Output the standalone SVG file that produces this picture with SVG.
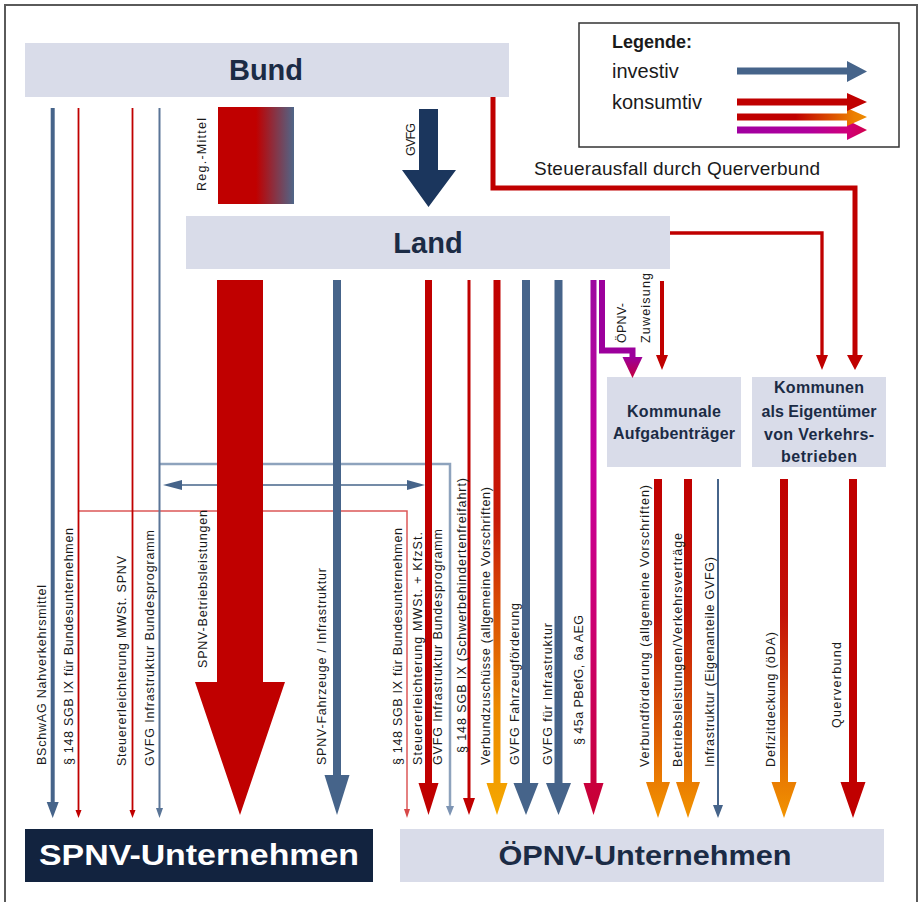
<svg xmlns="http://www.w3.org/2000/svg" width="919" height="902" viewBox="0 0 919 902">
<style>
.box{fill:#d9dce9}
.ttl{font-family:"Liberation Sans",Arial,sans-serif;font-weight:bold;fill:#1b2b45}
.lbl{font-family:"Liberation Sans",Arial,sans-serif;font-size:12.5px;fill:#1a1a1a}
.red{fill:#c00000}
.blue{fill:#46648a}
.redS{stroke:#c00000;fill:none}
.blueS{stroke:#46648a;fill:none}
</style>
<defs>
<linearGradient id="gReg" x1="0" y1="0" x2="1" y2="0"><stop offset="0" stop-color="#c00000"/><stop offset="0.5" stop-color="#c00000"/><stop offset="1" stop-color="#4f6688"/></linearGradient>
<linearGradient id="gAmber" x1="0" y1="0" x2="0" y2="1"><stop offset="0" stop-color="#c00000"/><stop offset="0.45" stop-color="#c81a08"/><stop offset="0.8" stop-color="#ec8a00"/><stop offset="1" stop-color="#f5a800"/></linearGradient>
<linearGradient id="gOrange" x1="0" y1="0" x2="0" y2="1"><stop offset="0" stop-color="#c00000"/><stop offset="0.4" stop-color="#c41208"/><stop offset="1" stop-color="#f29400"/></linearGradient>
<linearGradient id="gMag" x1="0" y1="0" x2="0" y2="1"><stop offset="0" stop-color="#9c0aa0"/><stop offset="0.35" stop-color="#c8009c"/><stop offset="0.65" stop-color="#cc0070"/><stop offset="1" stop-color="#c80032"/></linearGradient>
<linearGradient id="gPurpHead" x1="0" y1="0" x2="0" y2="1"><stop offset="0" stop-color="#9c009c"/><stop offset="1" stop-color="#c4003c"/></linearGradient>
<linearGradient id="gLegO" x1="0" y1="0" x2="1" y2="0"><stop offset="0" stop-color="#c00000"/><stop offset="0.45" stop-color="#c00000"/><stop offset="0.9" stop-color="#ec8000"/><stop offset="1" stop-color="#ee8a00"/></linearGradient>
<linearGradient id="gLegP" x1="0" y1="0" x2="1" y2="0"><stop offset="0" stop-color="#a000a0"/><stop offset="0.55" stop-color="#b0009c"/><stop offset="0.85" stop-color="#d0007a"/><stop offset="1" stop-color="#d0004a"/></linearGradient>
</defs>

<rect x="5" y="5" width="912" height="902" fill="#ffffff" stroke="#5a5a5a" stroke-width="2"/>

<g id="bund"><rect class="box" x="25" y="43" width="484" height="54"/><text class="ttl" x="266" y="80" font-size="29" text-anchor="middle">Bund</text></g>
<g id="land"><rect class="box" x="186" y="216" width="484" height="53"/><text class="ttl" x="428" y="253" font-size="29" text-anchor="middle">Land</text></g>
<g id="kommunale"><rect class="box" x="607" y="377" width="134" height="90"/>
<text class="ttl" x="674" y="417" font-size="16" text-anchor="middle" textLength="94">Kommunale</text>
<text class="ttl" x="674" y="439" font-size="16" text-anchor="middle" textLength="122">Aufgabenträger</text></g>
<g id="kommunen"><rect class="box" x="752" y="377" width="134" height="90"/>
<text class="ttl" x="819" y="393" font-size="16" text-anchor="middle" textLength="90">Kommunen</text>
<text class="ttl" x="819" y="416.5" font-size="16" text-anchor="middle" textLength="115">als Eigentümer</text>
<text class="ttl" x="819" y="439.5" font-size="16" text-anchor="middle" textLength="110">von Verkehrs-</text>
<text class="ttl" x="819" y="462" font-size="16" text-anchor="middle" textLength="76">betrieben</text></g>
<g id="spnv"><rect x="25" y="829" width="348" height="53" fill="#12233f"/><text class="ttl" x="199" y="865" font-size="29" text-anchor="middle" textLength="320" lengthAdjust="spacingAndGlyphs" style="fill:#ffffff">SPNV-Unternehmen</text></g>
<g id="oepnv"><rect class="box" x="400" y="829" width="484" height="53"/><text class="ttl" x="645" y="865" font-size="28" text-anchor="middle" textLength="293" lengthAdjust="spacingAndGlyphs">ÖPNV-Unternehmen</text></g>

<g id="legend">
<rect x="579" y="23" width="320" height="124" fill="#ffffff" stroke="#333333" stroke-width="1.5"/>
<text class="ttl" x="612" y="48" font-size="18" style="fill:#1a1a1a">Legende:</text>
<text class="lbl" x="612" y="78" style="font-size:20px">investiv</text>
<text class="lbl" x="612" y="109" style="font-size:20px">konsumtiv</text>
<polygon class="blue" points="737,67.5 847,67.5 847,61 867,71.5 847,82 847,74.5 737,74.5"/>
<polygon fill="url(#gLegP)" points="737,126.5 847,126.5 847,120 867,130 847,140 847,133.5 737,133.5"/>
<polygon fill="url(#gLegO)" points="737,113.5 847,113.5 847,108 867,117 847,126 847,120.5 737,120.5"/>
<polygon class="red" points="737,98.5 847,98.5 847,93 867,102 847,111 847,105.5 737,105.5"/>
</g>

<g id="reg-mittel"><rect x="218" y="107" width="76" height="97" fill="url(#gReg)"/></g>

<g id="connectors">
<path d="M160,464 H450 V808" fill="none" stroke="#8ea3bd" stroke-width="2.5"/>
<polygon points="446,806 454,806 450,816" fill="#7d94b3"/>
<path d="M182,485 H407" class="blueS" stroke-width="1.5"/>
<polygon class="blue" points="182,480 163,485 182,490"/>
<polygon class="blue" points="407,480 425,485 407,490"/>
<path d="M78.5,511 H407 V810" fill="none" stroke="#dc5858" stroke-width="1.5"/>
<polygon points="404,809 410,809 407,818" fill="#d84848"/>

<polygon class="blue" points="50.7,108 54.7,108 54.7,802 58.7,802 52.7,818 46.7,802 50.7,802"/>
<polygon class="red" points="77.6,108 79.4,108 79.4,810 81.5,810 78.5,818 75.5,810 77.6,810"/>
<polygon class="red" points="131.6,108 133.4,108 133.4,810 135.5,810 132.5,818 129.5,810 131.6,810"/>
<polygon fill="#5a7597" points="158.5,108 160.5,108 160.5,808 163,808 159.5,818 156,808 158.5,808"/>

<polygon fill="#1b365d" points="419,109 438,109 438,170 456,170 428.5,207 402,170 419,170"/>

<polygon class="red" points="217,280 263,280 263,682 285,682 240,815 195,682 217,682"/>
<polygon class="blue" points="333,280 341,280 341,775 349.5,775 337,815 324.5,775 333,775"/>
<polygon class="red" points="425,280 432,280 432,783 438.5,783 428.5,815 418.5,783 425,783"/>
<polygon class="red" points="467.5,280 470.5,280 470.5,798 475,798 469,815 463,798 467.5,798"/>
<polygon fill="url(#gAmber)" points="493.5,280 500.5,280 500.5,783 507.5,783 497,815 486.5,783 493.5,783"/>
<polygon class="blue" points="522,280 530,280 530,783 538.5,783 526,815 513.5,783 522,783"/>
<polygon class="blue" points="554.5,280 562.5,280 562.5,783 571,783 558.5,815 546,783 554.5,783"/>
<polygon fill="url(#gMag)" points="590.5,280 596.5,280 596.5,783 603.5,783 593.5,815 583.5,783 590.5,783"/>
<path d="M602,280 V350.5 H632.5 V358" fill="none" stroke="#9c009c" stroke-width="6"/>
<polygon fill="url(#gPurpHead)" points="622.5,357 642.5,357 632.5,378"/>
<polygon class="red" points="660,281 664,281 664,355 668,355 662,370 656,355 660,355"/>

<path d="M493,97 V188 H855 V357" class="redS" stroke-width="5"/>
<polygon class="red" points="847,355 863,355 855,370"/>
<path d="M670,233 H822 V357" class="redS" stroke-width="3.3"/>
<polygon class="red" points="816,355 828,355 822,370"/>

<polygon fill="url(#gOrange)" points="654,479 662,479 662,782 670,782 658,818 646,782 654,782"/>
<polygon fill="url(#gOrange)" points="684,479 692,479 692,782 700,782 688,818 676,782 684,782"/>
<polygon class="blue" points="717,479 719,479 719,805 723,805 718,818 713,805 717,805"/>
<polygon fill="url(#gOrange)" points="780,479 788,479 788,782 796.5,782 784,818 771.5,782 780,782"/>
<polygon class="red" points="849,479 857,479 857,782 865.5,782 853,818 840.5,782 849,782"/>
</g>

<g id="labels">
<text class="lbl" transform="translate(206,191) rotate(-90)" textLength="73">Reg.-Mittel</text>
<text class="lbl" transform="translate(415,156) rotate(-90)" textLength="33">GVFG</text>
<text class="lbl" transform="translate(626,343) rotate(-90)" textLength="40">ÖPNV-</text>
<text class="lbl" transform="translate(650,343) rotate(-90)" textLength="70">Zuweisung</text>
<text class="lbl" x="534" y="175" textLength="286" style="font-size:19px">Steuerausfall durch Querverbund</text>

<text class="lbl" transform="translate(46,765) rotate(-90)" textLength="180">BSchwAG Nahverkehrsmittel</text>
<text class="lbl" transform="translate(72.5,765) rotate(-90)" textLength="237">§ 148 SGB IX für Bundesunternehmen</text>
<text class="lbl" transform="translate(126,766) rotate(-90)" textLength="210">Steuererleichterung MWSt. SPNV</text>
<text class="lbl" transform="translate(154,766) rotate(-90)" textLength="236">GVFG Infrastruktur Bundesprogramm</text>
<text class="lbl" transform="translate(207,668) rotate(-90)" textLength="158">SPNV-Betriebsleistungen</text>
<text class="lbl" transform="translate(325.5,765) rotate(-90)" textLength="197">SPNV-Fahrzeuge / Infrastruktur</text>
<text class="lbl" transform="translate(402,765) rotate(-90)" textLength="237">§ 148 SGB IX für Bundesunternehmen</text>
<text class="lbl" transform="translate(421.5,765) rotate(-90)" textLength="233">Steuererleichterung MWSt. + KfzSt.</text>
<text class="lbl" transform="translate(442,765) rotate(-90)" textLength="236">GVFG Infrastruktur Bundesprogramm</text>
<text class="lbl" transform="translate(466,753) rotate(-90)" textLength="275">§ 148 SGB IX (Schwerbehindertenfreifahrt)</text>
<text class="lbl" transform="translate(489.5,765) rotate(-90)" textLength="278">Verbundzuschüsse (allgemeine Vorschriften)</text>
<text class="lbl" transform="translate(519,765) rotate(-90)" textLength="162">GVFG Fahrzeugförderung</text>
<text class="lbl" transform="translate(552,765) rotate(-90)" textLength="142">GVFG für Infrastruktur</text>
<text class="lbl" transform="translate(582.5,745) rotate(-90)" textLength="130">§ 45a PBefG, 6a AEG</text>
<text class="lbl" transform="translate(649,767) rotate(-90)" textLength="282">Verbundförderung (allgemeine Vorschriften)</text>
<text class="lbl" transform="translate(682,767) rotate(-90)" textLength="234">Betriebsleistungen/Verkehrsverträge</text>
<text class="lbl" transform="translate(714,767) rotate(-90)" textLength="210">Infrastruktur (Eigenanteile GVFG)</text>
<text class="lbl" transform="translate(774.5,767) rotate(-90)" textLength="135">Defizitdeckung (öDA)</text>
<text class="lbl" transform="translate(841,728) rotate(-90)" textLength="86">Querverbund</text>
</g>
</svg>
